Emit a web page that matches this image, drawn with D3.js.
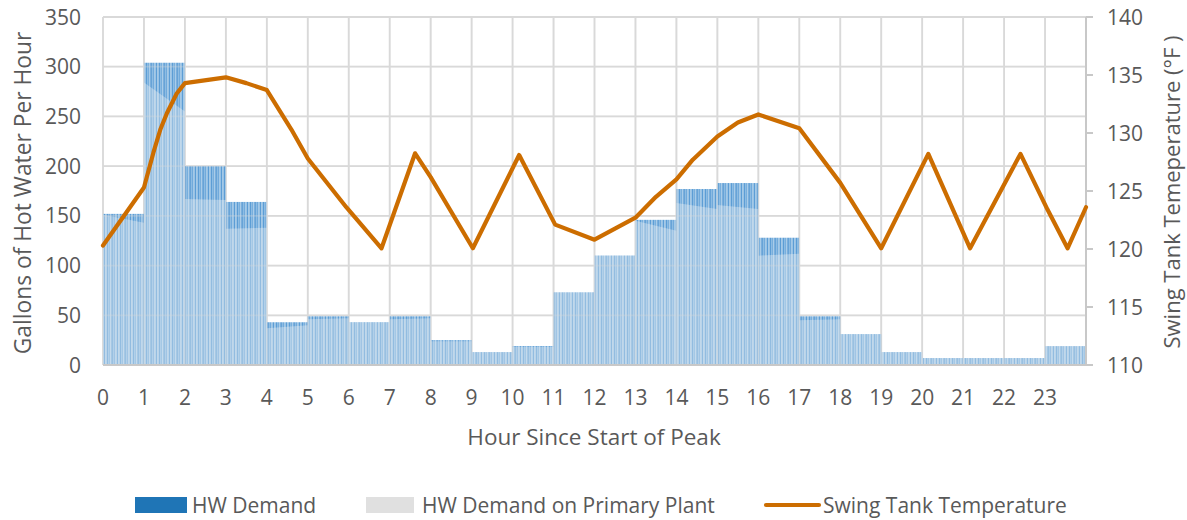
<!DOCTYPE html>
<html><head><meta charset="utf-8">
<script src="https://cdn.jsdelivr.net/npm/d3@7"></script>
<style>body{margin:0;background:#fff;} text{font-family:"Open Sans",sans-serif;fill:#595959;}</style>
</head><body>
<svg id="c" width="1187" height="520"></svg>
<script>
// ---- data ----
const hourLabels = ["0","1","2","3","4","5","6","7","8","9","10","11","12","13","14","15","16","17","18","19","20","21","22","23"];
const hwDemand     = [152,304,200,164,43,49,43,49,25,13,19,73,110,146,177,183,128,49,31,13,7,7,7,19];
const primaryStart = [151,284,167,137,37,46,43,46,24,13,18,73,110,145,163,161,110,45,31,13,7,7,7,19];
const primaryEnd   = [143,255,166,138,40,47,43,47,24,13,18,73,110,135,157,157,112,46,31,13,7,7,7,19];
const tempHours  = [0,1,1.23,1.4,1.56,1.8,2,3,3.5,4,4.6,5,5.94,6.8,7.62,8,9.03,10.16,11.04,12,13,13.5,14,14.4,15,15.5,16,17,18,19,20.15,21.17,22.4,23.06,23.55,24];
const tempValues = [120.3,125.3,128.3,130.3,131.7,133.4,134.3,134.8,134.3,133.7,130.3,127.8,123.6,120.06,128.25,126.2,120.06,128.1,122.1,120.8,122.7,124.5,126.0,127.7,129.7,130.9,131.6,130.4,125.7,120.06,128.2,120.06,128.2,123.4,120.06,123.6];
const leftTicks  = [0,50,100,150,200,250,300,350];
const rightTicks = [110,115,120,125,130,135,140];
const legendLabels = ["HW Demand","HW Demand on Primary Plant","Swing Tank Temperature"];

// ---- layout ----
const L = 103, R = 1086, T = 17, B = 365;
const svg = d3.select("#c");
const x = d3.scaleLinear().domain([0, 24]).range([L, R]);
const yL = d3.scaleLinear().domain([0, 350]).range([B, T]);
const yR = d3.scaleLinear().domain([110, 140]).range([B, T]);

// stripe pattern
const defs = svg.append("defs");
const pat = defs.append("pattern").attr("id","stripes").attr("patternUnits","userSpaceOnUse")
  .attr("width", 13).attr("height", 10);
pat.append("rect").attr("width",13).attr("height",10).attr("fill","#8dbce3");
[[0,1,"#5c9dd5"],[1.6,0.6,"#c6dcef"],[3,1,"#5c9dd5"],[5,0.7,"#6fa9db"],[6.5,0.6,"#c6dcef"],[7.6,1.1,"#5798d2"],[10,0.8,"#6aa6da"],[11.6,0.6,"#c6dcef"]]
  .forEach(s => pat.append("rect").attr("x",s[0]).attr("width",s[1]).attr("height",10).attr("fill",s[2]));

// gridlines
const grid = svg.append("g");
grid.selectAll("line.h").data(leftTicks).join("line")
  .attr("x1", L).attr("x2", R).attr("y1", d => yL(d)).attr("y2", d => yL(d))
  .attr("stroke","#d9d9d9").attr("stroke-width",1.8);
grid.selectAll("line.v").data(hourLabels).join("line")
  .attr("x1", (d,i) => x(i)).attr("x2", (d,i) => x(i)).attr("y1", T).attr("y2", B)
  .attr("stroke","#d9d9d9").attr("stroke-width",1.8);

// HW demand bars
svg.append("g").selectAll("rect").data(hwDemand).join("rect")
  .attr("x", (d,i) => x(i)).attr("width", (d,i) => x(i+1) - x(i))
  .attr("y", d => yL(d)).attr("height", d => B - yL(d))
  .attr("fill","url(#stripes)");

// primary plant overlay
svg.append("g").selectAll("path").data(primaryStart).join("path")
  .attr("d", (d,i) => {
    const x0 = x(i), x1 = x(i+1);
    return `M${x0},${B}L${x0},${yL(d)}L${x1},${yL(primaryEnd[i])}L${x1},${B}Z`;
  })
  .attr("fill","#f4f4f4").attr("fill-opacity",0.36);

// gridlines faintly visible over bars
grid.clone(true).attr("opacity",0.3).raise();

// axes lines
svg.append("line").attr("x1",L).attr("x2",R).attr("y1",B).attr("y2",B).attr("stroke","#c8c8c8").attr("stroke-width",2);
svg.append("line").attr("x1",R).attr("x2",R).attr("y1",T).attr("y2",B).attr("stroke","#c8c8c8").attr("stroke-width",2);
svg.append("g").selectAll("line").data(rightTicks).join("line")
  .attr("x1",R).attr("x2",R+7).attr("y1",d=>yR(d)).attr("y2",d=>yR(d)).attr("stroke","#c8c8c8").attr("stroke-width",2);

// temperature line
svg.append("path").datum(tempHours.map((h,i)=>[h,tempValues[i]]))
  .attr("d", d3.line().x(d=>x(d[0])).y(d=>yR(d[1])))
  .attr("fill","none").attr("stroke","#cc6d00").attr("stroke-width",4.2)
  .attr("stroke-linejoin","round").attr("stroke-linecap","round");

// tick labels
svg.append("g").selectAll("text").data(leftTicks).join("text")
  .attr("x", 81).attr("y", d => yL(d)).attr("dy","0.36em").attr("text-anchor","end")
  .style("font-size","21px").text(d => d);
svg.append("g").selectAll("text").data(rightTicks).join("text")
  .attr("x", 1107).attr("y", d => yR(d)).attr("dy","0.36em").attr("text-anchor","start")
  .style("font-size","21px").text(d => d);
svg.append("g").selectAll("text").data(hourLabels).join("text")
  .attr("x", (d,i) => x(i)).attr("y", 397).attr("dy","0.36em").attr("text-anchor","middle")
  .style("font-size","21px").text(d => d);

// axis titles
svg.append("text").attr("transform",`translate(23,${(T+B)/2+2}) rotate(-90)`).attr("dy","0.36em")
  .attr("text-anchor","middle").style("font-size","22.8px").text("Gallons of Hot Water Per Hour");
svg.append("text").attr("transform",`translate(1172,${(T+B)/2+1}) rotate(-90)`).attr("dy","0.36em")
  .attr("text-anchor","middle").style("font-size","22px").text("Swing Tank Temeperature (°F )");
svg.append("text").attr("x",594).attr("y",437).attr("dy","0.36em").attr("text-anchor","middle")
  .style("font-size","22.5px").text("Hour Since Start of Peak");

// legend
const lg = svg.append("g");
lg.append("rect").attr("x",135).attr("y",497).attr("width",52).attr("height",16).attr("fill","#1f75b6");
lg.append("text").attr("x",192).attr("y",505).attr("dy","0.36em").style("font-size","21px").text(legendLabels[0]);
lg.append("rect").attr("x",366).attr("y",497).attr("width",48).attr("height",16).attr("fill","#e0e0e0");
lg.append("text").attr("x",422).attr("y",505).attr("dy","0.36em").style("font-size","21px").text(legendLabels[1]);
lg.append("line").attr("x1",766).attr("x2",819).attr("y1",505).attr("y2",505).attr("stroke","#cc6d00").attr("stroke-width",4.2).attr("stroke-linecap","round");
lg.append("text").attr("x",823).attr("y",505).attr("dy","0.36em").style("font-size","21px").text(legendLabels[2]);
</script>
</body></html>
